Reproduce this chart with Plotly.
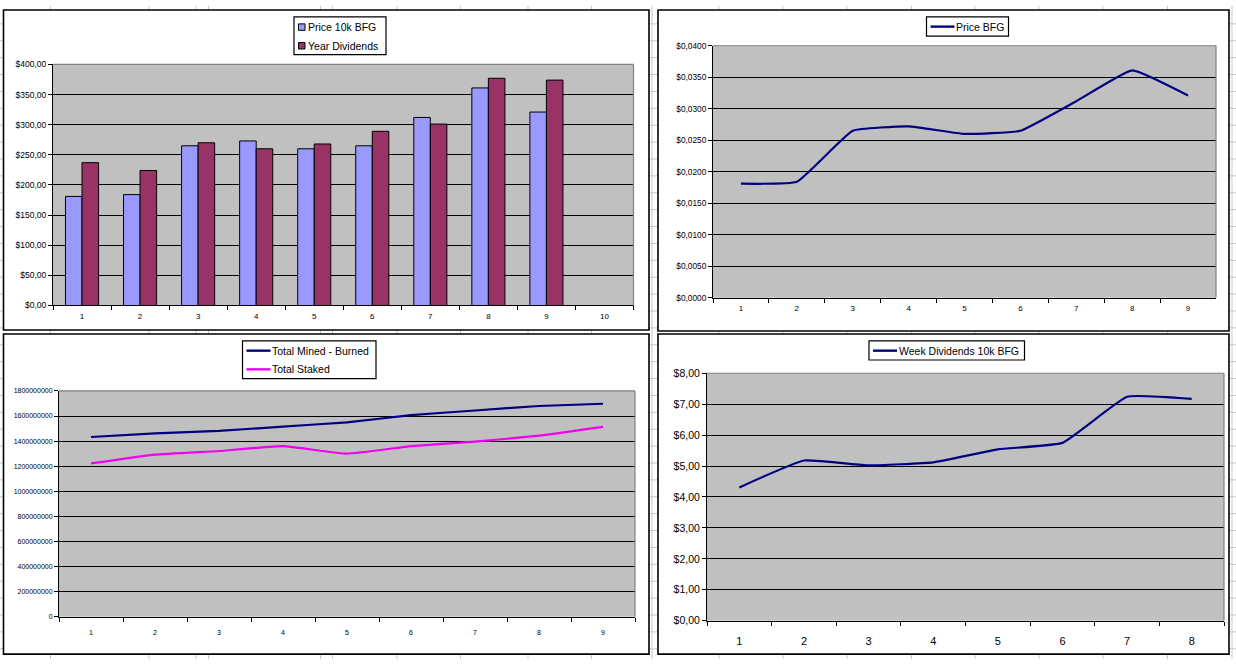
import plotly.graph_objects as go

W, H = 1236, 665

# ---------------- data ----------------
# Chart 1 (top-left): grouped bars
bar_categories = ['1', '2', '3', '4', '5', '6', '7', '8', '9', '10']
price_10k_bfg = [181, 184, 265, 273, 260, 265, 312, 361, 321]
year_dividends = [237, 224, 270, 260, 268, 289, 301, 377, 374]

# Chart 2 (top-right): price line
price_categories = ['1', '2', '3', '4', '5', '6', '7', '8', '9']
price_bfg = [0.0181, 0.0184, 0.0265, 0.0272, 0.0260, 0.0265, 0.0312, 0.0361, 0.0321]

# Chart 3 (bottom-left): supply lines
supply_categories = ['1', '2', '3', '4', '5', '6', '7', '8', '9']
total_mined_burned = [1433e6, 1461e6, 1482e6, 1516e6, 1550e6, 1607e6, 1644e6, 1680e6, 1698e6]
total_staked = [1222e6, 1292e6, 1321e6, 1360e6, 1300e6, 1360e6, 1396e6, 1443e6, 1513e6]

# Chart 4 (bottom-right): weekly dividends
week_categories = ['1', '2', '3', '4', '5', '6', '7', '8']
week_dividends = [4.31, 5.18, 5.02, 5.12, 5.54, 5.75, 7.24, 7.17]

# series names
names_chart1 = ['Price 10k BFG', 'Year Dividends']
names_chart2 = ['Price BFG']
names_chart3 = ['Total Mined - Burned', 'Total Staked']
names_chart4 = ['Week Dividends 10k BFG']

# ---------------- helpers ----------------
FONT = 'Liberation Sans, Arial, sans-serif'
NAVY = '#000080'
MAGENTA = '#f000f0'
BLUE_BAR = '#9999ff'
MAROON_BAR = '#993366'
PLOT_GRAY = '#c0c0c0'
SMOOTH = 0.35
LEGEND_FONT = 10.5


def dom_x(p0, p1):
    return [p0 / W, p1 / W]


def dom_y(top, bottom):
    return [1 - bottom / H, 1 - top / H]


def x_axis(x0, x1, anchor, cats, size, standoff):
    return dict(domain=dom_x(x0, x1), anchor=anchor, type='category',
                categoryorder='array', categoryarray=cats,
                range=[-0.5, len(cats) - 0.5],
                showgrid=False, zeroline=False, showline=True,
                linecolor='black', linewidth=1, ticks='outside',
                tickson='boundaries', ticklen=4, tickcolor='black',
                ticklabelstandoff=standoff,
                tickfont=dict(family=FONT, size=size, color='black'),
                fixedrange=True)


def y_axis(top, bottom, anchor, rng, dtick, fmt, prefix, size):
    return dict(domain=dom_y(top, bottom), anchor=anchor, range=rng,
                dtick=dtick, tick0=0, tickformat=fmt, tickprefix=prefix,
                showgrid=True, gridcolor='black', gridwidth=1,
                zeroline=False, showline=True, linecolor='black',
                linewidth=1, ticks='outside', ticklen=4, tickcolor='black',
                tickfont=dict(family=FONT, size=size, color='black'),
                fixedrange=True)


# panel frames (px) and plot areas (px): (x0, x1, top, bottom)
panels = [(3.5, 649, 4, 330), (658, 1229, 4, 331),
          (3.5, 649, 334, 660), (658, 1229, 334, 660)]
areas = [(53, 633.5, 59.5, 305), (713, 1216, 40.5, 297),
         (59, 635, 392, 622), (707, 1224, 374, 626)]

fig = go.Figure()

# Chart 1 bars
fig.add_trace(go.Bar(x=bar_categories[:len(price_10k_bfg)], y=price_10k_bfg,
                     name=names_chart1[0], marker=dict(color=BLUE_BAR, line=dict(color='black', width=1)),
                     xaxis='x', yaxis='y'))
fig.add_trace(go.Bar(x=bar_categories[:len(year_dividends)], y=year_dividends,
                     name=names_chart1[1], marker=dict(color=MAROON_BAR, line=dict(color='black', width=1)),
                     xaxis='x', yaxis='y'))

# Chart 2 line
fig.add_trace(go.Scatter(x=price_categories, y=price_bfg, mode='lines', name=names_chart2[0],
                         line=dict(color=NAVY, width=2.2, shape='spline', smoothing=SMOOTH),
                         xaxis='x2', yaxis='y2'))

# Chart 3 lines
fig.add_trace(go.Scatter(x=supply_categories, y=total_mined_burned, mode='lines',
                         name=names_chart3[0],
                         line=dict(color=NAVY, width=2.2, shape='spline', smoothing=SMOOTH),
                         xaxis='x3', yaxis='y3'))
fig.add_trace(go.Scatter(x=supply_categories, y=total_staked, mode='lines',
                         name=names_chart3[1],
                         line=dict(color=MAGENTA, width=2.2, shape='spline', smoothing=SMOOTH),
                         xaxis='x3', yaxis='y3'))

# Chart 4 line
fig.add_trace(go.Scatter(x=week_categories, y=week_dividends, mode='lines',
                         name=names_chart4[0],
                         line=dict(color=NAVY, width=2.2, shape='spline', smoothing=SMOOTH),
                         xaxis='x4', yaxis='y4'))

a1, a2, a3, a4 = areas


def px(x):
    return x / W


def py(y):
    return 1 - y / H


shapes = []
annotations = []
# spreadsheet cell grid (background)
col_lines = [50.5, 149, 196, 208.5, 320.5, 332.5, 397, 460.5, 528, 591.5, 652,
             719, 783, 847, 911.5, 975, 1039, 1103, 1167.5, 1232]
for cx in col_lines:
    shapes.append(dict(type='line', xref='paper', yref='paper', x0=px(cx), x1=px(cx),
                       y0=0, y1=1, line=dict(color='#c8c8c8', width=1), layer='below'))
ry = 18.2
while ry < H:
    shapes.append(dict(type='line', xref='paper', yref='paper', x0=0, x1=1,
                       y0=py(ry), y1=py(ry), line=dict(color='#c8c8c8', width=1),
                       layer='below'))
    ry += 17.2
# chart frames
for (x0, x1, t, b) in panels:
    shapes.append(dict(type='rect', xref='paper', yref='paper', x0=px(x0), x1=px(x1),
                       y0=py(b), y1=py(t), fillcolor='white',
                       line=dict(color='black', width=1.6), layer='below'))
# plot areas
for (x0, x1, t, b) in areas:
    shapes.append(dict(type='rect', xref='paper', yref='paper', x0=px(x0), x1=px(x1),
                       y0=py(b), y1=py(t), fillcolor=PLOT_GRAY,
                       line=dict(width=0), layer='below'))
    shapes.append(dict(type='line', xref='paper', yref='paper', x0=px(x0), x1=px(x1),
                       y0=py(t), y1=py(t), line=dict(color='#808080', width=1.2),
                       layer='above'))
    shapes.append(dict(type='line', xref='paper', yref='paper', x0=px(x1), x1=px(x1),
                       y0=py(b), y1=py(t), line=dict(color='#808080', width=1.2),
                       layer='above'))


# ---------------- Excel-style legend boxes ----------------
def legend_box(box, entries, kind):
    """box = (x0, x1, top, bottom); entries = list of (name, color, row_y)"""
    x0, x1, t, b = box
    shapes.append(dict(type='rect', xref='paper', yref='paper', x0=px(x0), x1=px(x1),
                       y0=py(b), y1=py(t), fillcolor='white',
                       line=dict(color='black', width=1.2), layer='above'))
    for name, color, yy in entries:
        if kind == 'square':
            sx0, sx1 = x0 + 4.5, x0 + 11
            shapes.append(dict(type='rect', xref='paper', yref='paper',
                               x0=px(sx0), x1=px(sx1), y0=py(yy + 3.3), y1=py(yy - 3.3),
                               fillcolor=color, line=dict(color='black', width=1),
                               layer='above'))
            tx = x0 + 13.5
        else:
            lx0, lx1 = x0 + 4, x0 + 28
            shapes.append(dict(type='line', xref='paper', yref='paper',
                               x0=px(lx0), x1=px(lx1), y0=py(yy), y1=py(yy),
                               line=dict(color=color, width=2.4), layer='above'))
            tx = x0 + 29.5
        annotations.append(dict(xref='paper', yref='paper', x=px(tx), y=py(yy),
                                xanchor='left', yanchor='middle', showarrow=False,
                                borderpad=0, xshift=-1,
                                text=name, font=dict(family=FONT, size=LEGEND_FONT, color='black')))


legend_box((294, 386, 11, 49.6),
           [(names_chart1[0], BLUE_BAR, 21.5), (names_chart1[1], MAROON_BAR, 40.5)], 'square')
legend_box((926.5, 1008.5, 11, 30.7), [(names_chart2[0], NAVY, 21)], 'line')
legend_box((242.5, 376, 341, 379.5),
           [(names_chart3[0], NAVY, 351), (names_chart3[1], MAGENTA, 370)], 'line')
legend_box((869, 1024.5, 341, 360.5), [(names_chart4[0], NAVY, 351)], 'line')

fig.update_layout(
    width=W, height=H, autosize=False,
    margin=dict(l=0, r=0, t=0, b=0, pad=0),
    paper_bgcolor='white', plot_bgcolor='rgba(0,0,0,0)',
    separators=',.',
    font=dict(family=FONT, color='black'),
    barmode='group', bargap=0.43, bargroupgap=0,
    showlegend=False,
    xaxis=x_axis(a1[0], a1[1], 'y', bar_categories, 8, 3),
    yaxis=y_axis(a1[2], a1[3], 'x', [0, 400], 50, '.2f', '$', 8.5),
    xaxis2=x_axis(a2[0], a2[1], 'y2', price_categories, 8, 3),
    yaxis2=y_axis(a2[2], a2[3], 'x2', [0, 0.04], 0.005, '.4f', '$', 8.3),
    xaxis3=x_axis(a3[0], a3[1], 'y3', supply_categories, 7, 9),
    yaxis3=y_axis(a3[2], a3[3], 'x3', [0, 1.8e9], 2e8, 'd', '', 7),
    xaxis4=x_axis(a4[0], a4[1], 'y4', week_categories, 11, 10),
    yaxis4=y_axis(a4[2], a4[3], 'x4', [0, 8], 1, '.2f', '$', 10.5),
    shapes=shapes,
    annotations=annotations,
    hovermode=False,
)

fig.write_html("out.html", config=dict(displayModeBar=False, staticPlot=True),
               post_script="document.body.style.margin='0';")
